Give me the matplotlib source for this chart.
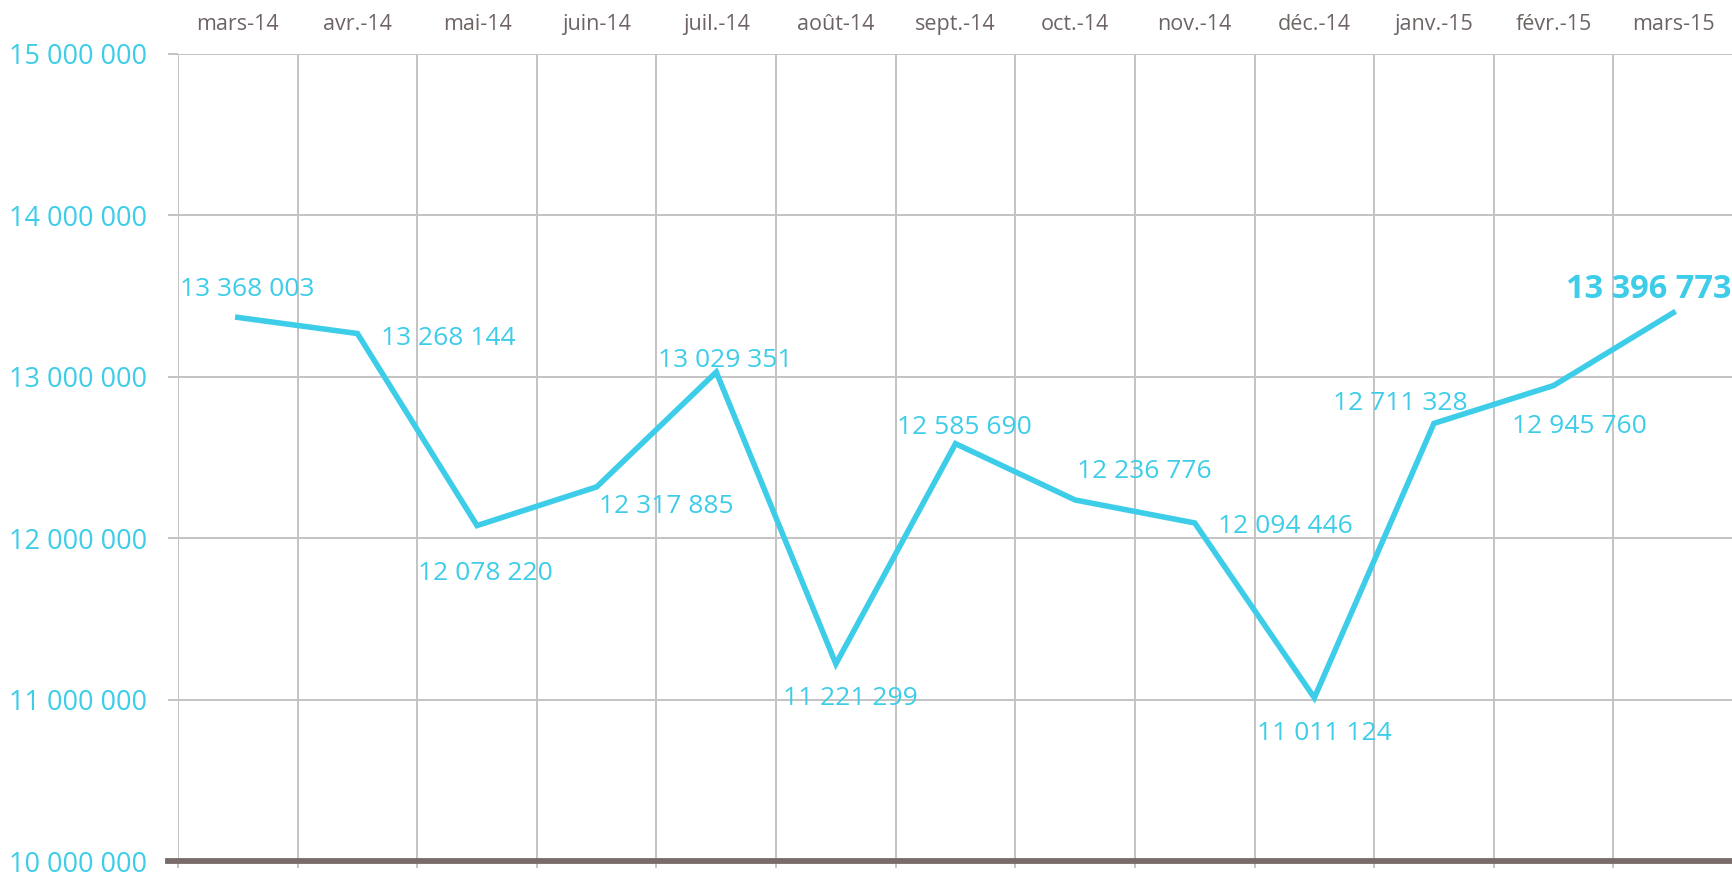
import matplotlib
matplotlib.use("Agg")
import matplotlib.pyplot as plt
import numpy as np

plt.rcParams['font.family'] = ['Open Sans', 'DejaVu Sans']

cyan = "#3dcde9"
gris = "#c3c3c3"
brun = "#6f6464"

# --- donnees ---
mois = ["mars-14", "avr.-14", "mai-14", "juin-14", "juil.-14", "août-14", "sept.-14",
        "oct.-14", "nov.-14", "déc.-14", "janv.-15", "févr.-15", "mars-15"]
valeurs = [13368003, 13268144, 12078220, 12317885, 13029351, 11221299, 12585690,
           12236776, 12094446, 11011124, 12711328, 12945760, 13396773]
yticks = [10000000, 11000000, 12000000, 13000000, 14000000, 15000000]

# decalage des etiquettes (pixels) par rapport au point
decal = [(9, 28), (91, -5), (8, -48), (70, -20), (9, 12), (14, -35), (9, 16),
         (69, 28), (91, -4), (10, -36), (-34, 20), (26, -41)]


def fmt(v):
    return f"{v:,.0f}".replace(",", " ")


W, H = 1733, 872
fig = plt.figure(figsize=(W / 100, H / 100), dpi=100)
ax = fig.add_axes([178 / W, (H - 861) / H, (W - 178) / W, (861 - 54) / H])

x = np.arange(len(mois))
ax.plot(x, valeurs, color=cyan, lw=4.0, solid_joinstyle="miter", zorder=3)

for i in range(len(decal)):
    ax.annotate(fmt(valeurs[i]), (x[i], valeurs[i]), xytext=decal[i],
                textcoords="offset pixels", ha="center", va="center",
                color=cyan, fontsize=19, zorder=4)

# derniere valeur en gras (coupee au bord droit comme l'original)
ax.annotate(fmt(valeurs[-1]), (x[-1], valeurs[-1]), xytext=(-107, 23),
            textcoords="offset pixels", ha="left", va="center",
            color=cyan, fontsize=23.5, fontweight="bold", zorder=4,
            annotation_clip=False)

ax.set_xlim(-0.5, -0.5 + (W - 178) / 120.6)
ax.set_ylim(yticks[0], yticks[-1])

# graduations x : traits aux limites, etiquettes en haut au centre
ax.set_xticks(np.arange(len(mois) + 1) - 0.5)
ax.set_xticklabels([])
ax.set_xticks(x, minor=True)
ax.set_xticklabels(mois, minor=True)
ax.tick_params(axis="x", which="major", bottom=True, top=False, length=5,
               width=1.4, color=gris, direction="out")
ax.tick_params(axis="x", which="minor", bottom=False, top=False, labelbottom=False,
               labeltop=True, length=0, pad=14, labelsize=15.5, labelcolor=brun)

ax.set_yticks(yticks)
ax.set_yticklabels([fmt(v) for v in yticks])
ax.tick_params(axis="y", length=7.2, width=1.4, color=gris, pad=15,
               labelsize=19.5, labelcolor=cyan)

ax.grid(axis="x", which="major", color=gris, lw=1.4)
ax.grid(axis="y", color=gris, lw=1.4)
ax.set_axisbelow(True)

for s in ax.spines.values():
    s.set_visible(False)

ax.axhline(yticks[0], xmin=-10 / (W - 178), xmax=1, color="#786c6b", lw=4.2,
           clip_on=False, zorder=5)

plt.savefig("out.png", dpi=100)
